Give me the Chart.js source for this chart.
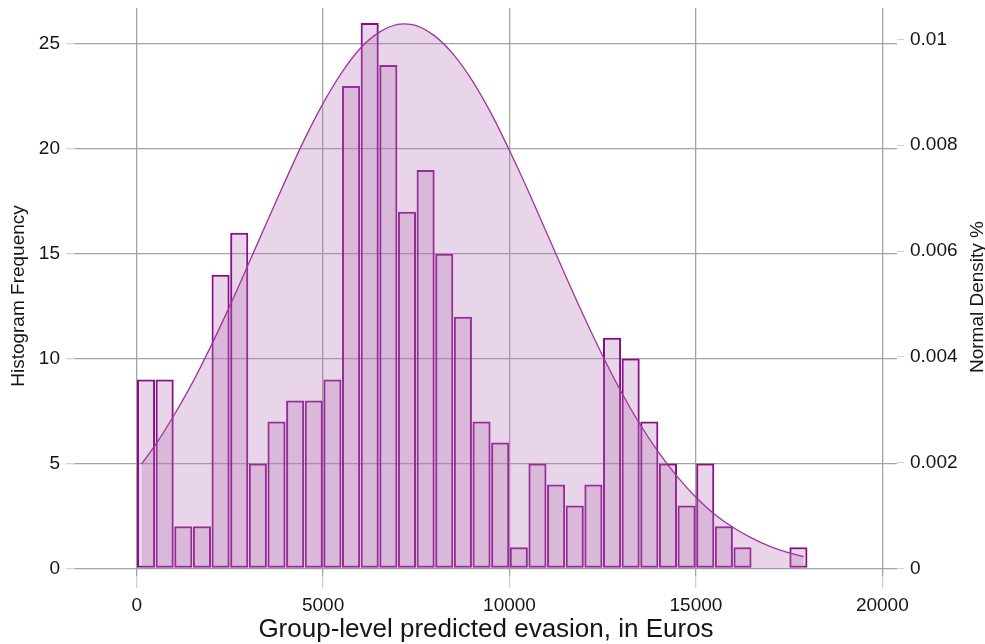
<!DOCTYPE html>
<html>
<head>
<meta charset="utf-8">
<script src="https://cdn.jsdelivr.net/npm/chart.js@4.4.1/dist/chart.umd.min.js"></script>
<style>
html,body{margin:0;padding:0;background:#ffffff;}
#wrap{width:985px;height:644px;position:relative;}
</style>
</head>
<body>
<div id="wrap"><canvas id="c" width="985" height="644"></canvas></div>
<script>
// ---- data ----
const binCenters = [250,750,1250,1750,2250,2750,3250,3750,4250,4750,5250,5750,6250,6750,7250,7750,8250,8750,9250,9750,10250,10750,11250,11750,12250,12750,13250,13750,14250,14750,15250,15750,16250,16750,17250,17750];
const frequencies = [9,9,2,2,14,16,5,7,8,8,9,23,26,24,17,19,15,12,7,6,1,5,4,3,4,11,10,7,5,3,5,2,1,0,0,1];

const densityX = [134,500,1000,1500,2000,2500,3000,3500,4000,4500,5000,5500,6000,6500,7000,7180,7500,8000,8500,9000,9500,10000,10500,11000,11500,12000,12500,13000,13500,14000,14500,15000,15500,16000,16500,17000,17500,17890];
const densityY = [0.00198,0.00234,0.00290,0.00352,0.00422,0.00497,0.00576,0.00656,0.00735,0.00811,0.00879,0.00937,0.00983,0.01013,0.01028,0.01029,0.01026,0.01006,0.00971,0.00922,0.00861,0.00790,0.00714,0.00634,0.00554,0.00476,0.00402,0.00334,0.00273,0.00220,0.00174,0.00135,0.00103,0.00078,0.00058,0.00042,0.00030,0.00023];

const xTicks = [0,5000,10000,15000,20000];
const xTickLabels = ['0','5000','10000','15000','20000'];
const yLeftTicks = [0,5,10,15,20,25];
const yLeftTickLabels = ['0','5','10','15','20','25'];
const yRightTicks = [0,0.002,0.004,0.006,0.008,0.01];
const yRightTickLabels = ['0','0.002','0.004','0.006','0.008','0.01'];

const xTitle = 'Group-level predicted evasion, in Euros';
const yLeftTitle = 'Histogram Frequency';
const yRightTitle = 'Normal Density %';

// ---- styles ----
const FONT = '"Liberation Sans", Arial, Helvetica, sans-serif';
const TEXT = '#151515';
const GRID = '#a4a4a4';
const TICKC = '#d2d2d2';
const FILL = 'rgba(182,115,182,0.30)';
const BAR_BORDER = '#860f86';
const LINE = '#a0349f';

const yTitlesPlugin = {
  id: 'yTitles',
  afterDraw(chart) {
    const ctx = chart.ctx;
    ctx.save();
    ctx.font = '19px ' + FONT;
    ctx.fillStyle = TEXT;
    ctx.textAlign = 'center';
    ctx.textBaseline = 'middle';
    [[yLeftTitle, 19, 296], [yRightTitle, 977.5, 297]].forEach(([t, x, y]) => {
      ctx.save();
      ctx.translate(x, y);
      ctx.rotate(-Math.PI / 2);
      ctx.fillText(t, 0, 0);
      ctx.restore();
    });
    ctx.restore();
  }
};

function setTicks(values) {
  return (scale) => { scale.ticks = values.map(v => ({ value: v })); };
}

new Chart(document.getElementById('c'), {
  type: 'bar',
  data: {
    datasets: [
      {
        type: 'line',
        label: 'Normal density',
        data: densityX.map((x, i) => ({ x: x, y: densityY[i] })),
        yAxisID: 'y1',
        xAxisID: 'x',
        borderColor: LINE,
        borderWidth: 1.3,
        backgroundColor: FILL,
        fill: 'origin',
        pointRadius: 0,
        cubicInterpolationMode: 'monotone'
      },
      {
        type: 'bar',
        label: 'Histogram',
        data: binCenters.map((x, i) => ({ x: x, y: frequencies[i] })),
        yAxisID: 'y',
        xAxisID: 'x',
        backgroundColor: FILL,
        borderColor: BAR_BORDER,
        borderWidth: 2,
        borderSkipped: false,
        categoryPercentage: 1.0,
        barPercentage: 0.97
      }
    ]
  },
  options: {
    responsive: false,
    animation: false,
    devicePixelRatio: 1,
    layout: { padding: { top: 8, left: 0, right: 0, bottom: 0 } },
    plugins: { legend: { display: false }, tooltip: { enabled: false } },
    scales: {
      x: {
        type: 'linear',
        position: 'bottom',
        min: -1655,
        max: 20394,
        offset: false,
        grid: { offset: false, color: GRID, lineWidth: 1.3, tickColor: TICKC, tickLength: 12, drawTicks: true },
        border: { display: false },
        ticks: {
          font: { family: FONT, size: 19 },
          color: TEXT,
          padding: 6,
          autoSkip: false,
          maxRotation: 0,
          callback: (v, i) => xTickLabels[xTicks.indexOf(v)] ?? String(v)
        },
        title: {
          display: true,
          text: xTitle,
          font: { family: FONT, size: 26, lineHeight: 1 },
          color: TEXT,
          padding: { top: 0, bottom: 1 }
        },
        afterBuildTicks: setTicks(xTicks),
        afterFit: (s) => { s.height = 68; s.paddingLeft = 0; s.paddingRight = 0; }
      },
      y: {
        type: 'linear',
        position: 'left',
        min: -0.367,
        max: 26.72,
        grid: { color: GRID, lineWidth: 1.3, tickColor: TICKC, tickLength: 9, drawTicks: true },
        border: { display: false },
        ticks: {
          font: { family: FONT, size: 19 },
          color: TEXT,
          padding: 6,
          callback: (v) => yLeftTickLabels[yLeftTicks.indexOf(v)] ?? String(v)
        },
        afterBuildTicks: setTicks(yLeftTicks),
        afterFit: (s) => { s.width = 75; s.paddingTop = 0; s.paddingBottom = 0; }
      },
      y1: {
        type: 'linear',
        position: 'right',
        min: -0.000136,
        max: 0.010591,
        grid: { drawOnChartArea: false, tickColor: TICKC, tickLength: 7, drawTicks: true },
        border: { display: false },
        ticks: {
          font: { family: FONT, size: 19 },
          color: TEXT,
          padding: 6,
          callback: (v) => {
            const i = yRightTicks.findIndex(t => Math.abs(t - v) < 1e-9);
            return i >= 0 ? yRightTickLabels[i] : String(v);
          }
        },
        afterBuildTicks: setTicks(yRightTicks),
        afterFit: (s) => { s.width = 88; s.paddingTop = 0; s.paddingBottom = 0; }
      }
    }
  },
  plugins: [yTitlesPlugin]
});
</script>
</body>
</html>
